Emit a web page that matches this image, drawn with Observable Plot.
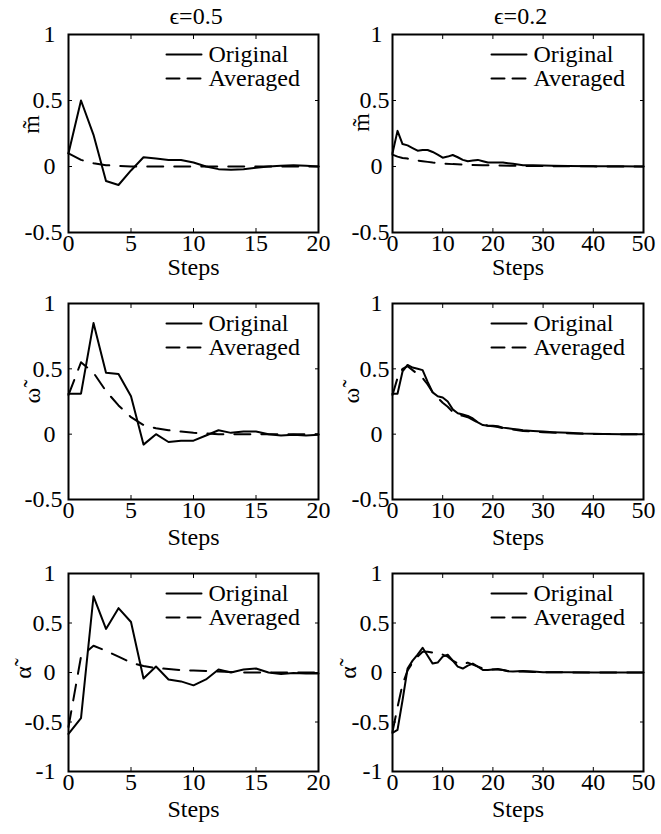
<!DOCTYPE html>
<html><head><meta charset="utf-8">
<script src="https://cdn.jsdelivr.net/npm/d3@7"></script>
<script src="https://cdn.jsdelivr.net/npm/@observablehq/plot@0.6"></script>
<style>
body{margin:0;background:#fff;font-family:'Liberation Serif',serif;}
#wrap{position:relative;width:661px;height:834px;background:#fff;}
#wrap svg{position:absolute;overflow:visible;}
.ttl{position:absolute;top:2px;font-family:'Liberation Serif',serif;font-size:24px;line-height:28px;text-align:center;width:120px;color:#000;}
</style></head><body>
<div id="wrap">
  <div class="ttl" id="t0"></div>
  <div class="ttl" id="t1"></div>
</div>
<script>
// ---------- data ----------
const titles = ["ϵ=0.5", "ϵ=0.2"];
const yLabels = ["m̃", "ω̃", "α̃"];
const legendLabels = ["Original", "Averaged"];
const xLabel = "Steps";
const xTicksLeft = [0, 5, 10, 15, 20];
const xTicksRight = [0, 10, 20, 30, 40, 50];
const yTicksTop = [-0.5, 0, 0.5, 1];
const yTicksBottom = [-1, -0.5, 0, 0.5, 1];

const steps20 = [0,1,2,3,4,5,6,7,8,9,10,11,12,13,14,15,16,17,18,19,20];

// eps = 0.5, m~
const mOrig05 = [0.10,0.50,0.24,-0.11,-0.14,-0.03,0.07,0.06,0.05,0.05,0.03,0.00,-0.02,-0.025,-0.02,-0.01,0.00,0.005,0.01,0.005,0.00];
const mAvg05  = [0.10,0.05,0.025,0.01,0.005,0,0,0,0,0,0,0,0,0,0,0,0,0,0,0,0];
// eps = 0.2, m~
const mOrig02X = [0,1,2,3,4,5,6,7,8,9,10,11,12,13,14,15,16,17,18,19,20,21,22,23,24,25,26,28,30,32,35,40,45,50];
const mOrig02  = [0.10,0.27,0.17,0.16,0.14,0.12,0.125,0.125,0.11,0.09,0.067,0.075,0.087,0.07,0.05,0.04,0.045,0.05,0.04,0.03,0.03,0.03,0.03,0.025,0.02,0.015,0.01,0.01,0.008,0.005,0.003,0.002,0.001,0];
const mAvg02X  = [0,1,2,3,4,5,6,7,8,9,10,12,14,16,18,20,25,30,35,40,50];
const mAvg02   = [0.09,0.075,0.065,0.06,0.05,0.045,0.04,0.035,0.03,0.027,0.023,0.018,0.015,0.012,0.01,0.008,0.005,0.003,0.002,0.001,0];

// eps = 0.5, omega~
const wOrig05 = [0.31,0.31,0.85,0.47,0.46,0.29,-0.08,0.0,-0.06,-0.05,-0.05,-0.01,0.03,0.01,0.02,0.02,0.0,-0.01,-0.005,-0.01,-0.005];
const wAvg05  = [0.30,0.55,0.47,0.33,0.22,0.13,0.07,0.045,0.03,0.02,0.01,0.005,0,0,0,0,0,0,0,0,0];
// eps = 0.2, omega~
const wOrig02X = [0,1,2,3,4,5,6,7,8,9,10,11,12,13,14,15,16,17,18,19,20,21,22,23,24,25,26,28,30,32,35,38,42,46,50];
const wOrig02  = [0.31,0.31,0.48,0.53,0.51,0.50,0.49,0.40,0.32,0.29,0.28,0.25,0.19,0.16,0.15,0.14,0.12,0.09,0.07,0.065,0.065,0.06,0.05,0.045,0.04,0.035,0.03,0.025,0.02,0.015,0.01,0.005,0.002,0,0];
const wAvg02X  = [0,1,2,3,4,5,6,7,8,9,10,11,12,13,14,15,16,17,18,19,20,21,22,23,24,26,28,30,33,36,40,45,50];
const wAvg02   = [0.30,0.43,0.50,0.52,0.49,0.46,0.43,0.38,0.32,0.28,0.24,0.21,0.17,0.15,0.14,0.13,0.11,0.09,0.075,0.065,0.06,0.055,0.045,0.04,0.035,0.025,0.02,0.015,0.01,0.005,0.002,0,0];

// eps = 0.5, alpha~
const aOrig05 = [-0.62,-0.46,0.77,0.44,0.65,0.51,-0.06,0.06,-0.07,-0.09,-0.13,-0.07,0.03,0.0,0.03,0.04,0.0,-0.015,-0.005,-0.01,-0.01];
const aAvg05  = [-0.55,0.16,0.27,0.22,0.16,0.10,0.065,0.045,0.035,0.025,0.02,0.015,0.01,0.005,0,0,0,0,0,0,0];
// eps = 0.2, alpha~
const aOrig02X = [0,1,2,3,4,5,6,7,8,9,10,11,12,13,14,15,16,17,18,19,20,21,22,23,24,25,26,28,30,35,40,45,50];
const aOrig02  = [-0.61,-0.58,-0.28,0.04,0.12,0.18,0.25,0.17,0.09,0.10,0.16,0.18,0.12,0.06,0.04,0.07,0.09,0.06,0.025,0.025,0.03,0.035,0.025,0.012,0.01,0.012,0.015,0.01,0.003,0.002,0,0,0];
const aAvg02X  = [0,1,2,3,4,5,6,7,8,9,10,11,12,13,14,15,16,17,18,19,20,21,22,23,24,26,28,30,35,40,50];
const aAvg02   = [-0.6,-0.35,-0.12,0.02,0.10,0.16,0.21,0.21,0.20,0.20,0.18,0.16,0.12,0.09,0.08,0.10,0.08,0.06,0.04,0.03,0.03,0.03,0.025,0.015,0.01,0.01,0.005,0.003,0.001,0,0];

// ---------- drawing ----------
const FONT = "Liberation Serif";
const FS = 24;
const toRows = (xs, ys) => xs.map((x, i) => ({x, y: ys[i]}));
const isInt = d => Number.isInteger(d);
const fmt = d => String(d);
const tickLine = {draw(ctx, l) { ctx.moveTo(0, 0); ctx.lineTo(l, 0); }};

const cols = [
  {left: 0, width: 330, mL: 68, mR: 12, xMax: 20, xTicks: xTicksLeft, decPad: 6, intPad: 13},
  {left: 330, width: 331, mL: 62, mR: 18, xMax: 50, xTicks: xTicksRight, decPad: 3, intPad: 10}
];
const rows = [
  {top: 0, height: 280, mT: 34, mB: 48, yDomain: [-0.5, 1], yTicks: yTicksTop, label: yLabels[0], stepsDy: 35},
  {top: 270, height: 280, mT: 33, mB: 51, yDomain: [-0.5, 1], yTicks: yTicksTop, label: yLabels[1], stepsDy: 38},
  {top: 540, height: 294, mT: 33, mB: 63, yDomain: [-1, 1], yTicks: yTicksBottom, label: yLabels[2], stepsDy: 38}
];
const series = [
  [[toRows(steps20, mOrig05), toRows(steps20, mAvg05)], [toRows(mOrig02X, mOrig02), toRows(mAvg02X, mAvg02)]],
  [[toRows(steps20, wOrig05), toRows(steps20, wAvg05)], [toRows(wOrig02X, wOrig02), toRows(wAvg02X, wAvg02)]],
  [[toRows(steps20, aOrig05), toRows(steps20, aAvg05)], [toRows(aOrig02X, aOrig02), toRows(aAvg02X, aAvg02)]]
];
const labelPos = [
  [{dx: -37, dy: -9}, {dx: -31, dy: -11}],
  [{dx: -36, dy: -6}, {dx: -41, dy: -6}],
  [{dx: -45, dy: 0}, {dx: -44, dy: 0}]
];

// column titles above the top row (HTML text)
cols.forEach((c, ci) => {
  const el = document.getElementById("t" + ci);
  el.textContent = titles[ci];
  const cx = c.left + c.mL + (c.width - c.mL - c.mR) / 2 + 3;
  el.style.left = (cx - 60) + "px";
});

const wrap = document.getElementById("wrap");
rows.forEach((r, ri) => {
  cols.forEach((c, ci) => {
    const [orig, avg] = series[ri][ci];
    const lp = labelPos[ri][ci];
    const txt = {fontSize: FS, fontFamily: FONT, fill: "black"};
    const marks = [
      Plot.frame({stroke: "black", strokeWidth: 2}),
      Plot.axisX({anchor: "bottom", ticks: c.xTicks, tickSize: -4, tickPadding: 5, tickFormat: fmt, label: null, ...txt}),
      Plot.axisX({anchor: "top", ticks: c.xTicks, tickSize: -4, tickFormat: () => "", label: null}),
      Plot.axisY({anchor: "left", ticks: r.yTicks.filter(d => !isInt(d)), tickSize: -4, tickPadding: c.decPad + 4, tickFormat: fmt, label: null, ...txt}),
      Plot.axisY({anchor: "left", ticks: r.yTicks.filter(isInt), tickSize: -4, tickPadding: c.intPad + 4, tickFormat: fmt, label: null, ...txt}),
      Plot.axisY({anchor: "right", ticks: r.yTicks, tickSize: -4, tickFormat: () => "", label: null}),
      Plot.line(orig, {x: "x", y: "y", stroke: "black", strokeWidth: 2}),
      Plot.line(avg, {x: "x", y: "y", stroke: "black", strokeWidth: 2, strokeDasharray: "16,11"}),
      // legend
      Plot.vector([legendLabels[0]], {frameAnchor: "top-right", dx: -152, dy: 20, length: 35, rotate: 0, anchor: "start", shape: tickLine, stroke: "black", strokeWidth: 2}),
      Plot.vector([legendLabels[1]], {frameAnchor: "top-right", dx: -152, dy: 44, length: 35, rotate: 0, anchor: "start", shape: tickLine, stroke: "black", strokeWidth: 2, strokeDasharray: "13,8"}),
      Plot.text([legendLabels[0]], {frameAnchor: "top-right", dx: -110, dy: 20, text: d => d, textAnchor: "start", lineAnchor: "middle", ...txt}),
      Plot.text([legendLabels[1]], {frameAnchor: "top-right", dx: -110, dy: 44, text: d => d, textAnchor: "start", lineAnchor: "middle", ...txt}),
      // axis labels
      Plot.text([r.label], {frameAnchor: "left", dx: lp.dx, dy: lp.dy, rotate: -90, text: d => d, textAnchor: "middle", lineAnchor: "middle", ...txt}),
      Plot.text([xLabel], {frameAnchor: "bottom", dy: r.stepsDy, text: d => d, lineAnchor: "middle", ...txt})
    ];
    const svg = Plot.plot({
      width: c.width, height: r.height,
      marginLeft: c.mL, marginRight: c.mR, marginTop: r.mT, marginBottom: r.mB,
      x: {domain: [0, c.xMax]},
      y: {domain: r.yDomain},
      marks
    });
    svg.setAttribute("font-family", FONT);
    svg.style.left = c.left + "px";
    svg.style.top = r.top + "px";
    wrap.appendChild(svg);
  });
});
</script>
</body></html>
